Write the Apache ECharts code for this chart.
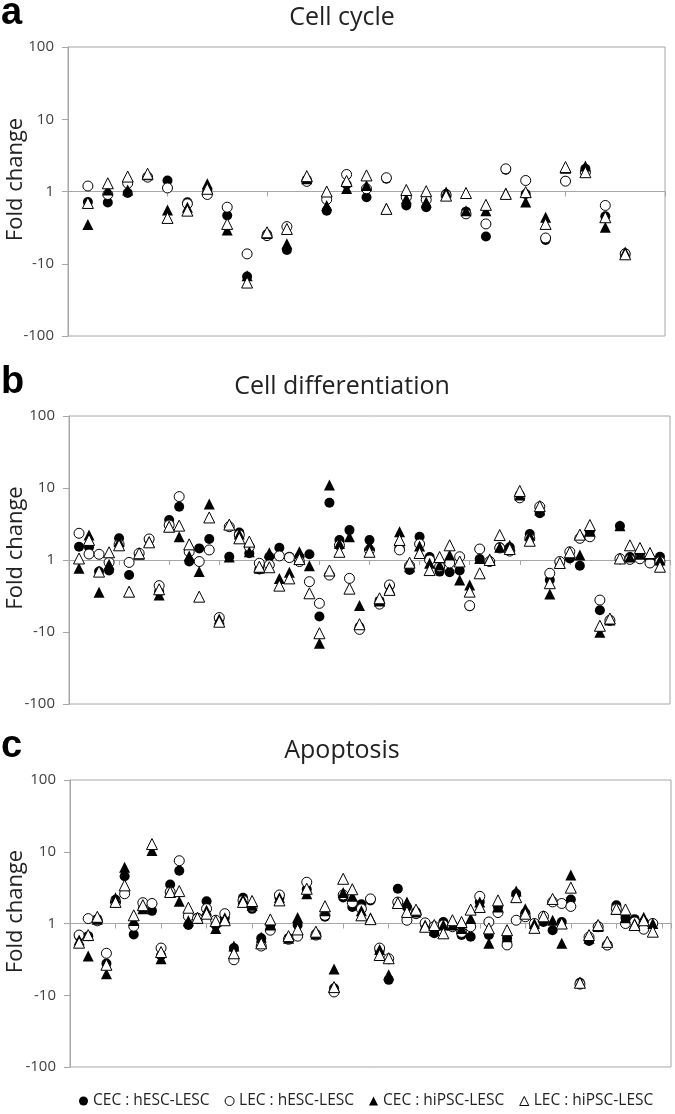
<!DOCTYPE html>
<html>
<head>
<meta charset="utf-8">
<title>Fold change</title>
<script src="https://cdn.jsdelivr.net/npm/echarts@6/dist/echarts.min.js"></script>
<style>
  html, body { margin: 0; padding: 0; background: #fff; }
  #main { width: 675px; height: 1114px; }
</style>
</head>
<body>
<div id="main"></div>
<script>
// fold change values (negative = fold decrease), one entry per gene
var seriesNames = ['CEC : hESC-LESC', 'LEC : hESC-LESC', 'CEC : hiPSC-LESC', 'LEC : hiPSC-LESC'];
var yTicks = [-2, -1, 0, 1, 2];
var yTickLabels = ['-100', '-10', '1', '10', '100'];

// a: Cell cycle
var cycleCecEsc = [-1.4, -1.42, -1.05, 1.6, 1.42, -1.41, 1.03, -2.15, -15, -3.9, -6.46, 1.45, -1.84, 1.25,
    -1.2, 1.5, -1.56, -1.65, -1.08, -1.9, -4.2, 2.0, -1.08, -4.7, 1.4, 2.06, -2.2, -7.2];
var cycleLecEsc = [1.19, -1.1, 1.3, 1.58, 1.12, -1.48, -1.1, -1.65, -7.3, -4.08, -3.06, 1.38, -1.29, 1.72,
    1.09, 1.55, -1.2, -1.3, -1.12, -2.04, -2.81, 2.06, 1.42, -4.4, 1.39, 1.85, -1.56, -7.3];
var cycleCecIps = [-2.87, 1.05, 1.05, 1.7, -1.8, -1.65, 1.28, -3.4, -14.7, -3.8, -5.3, 1.5, -1.56, 1.1,
    1.21, -1.7, -1.26, -1.4, -1.02, -1.85, -1.84, -1.05, -1.4, -2.27, 2.1, 2.25, -3.13, -6.9];
var cycleLecIps = [-1.44, 1.3, 1.61, 1.76, -2.32, -1.84, 1.09, -2.81, -18.2, -3.67, -3.3, 1.63, 1.0, 1.4,
    1.67, -1.74, 1.05, 1.01, -1.14, -1.05, -1.53, -1.08, -1.02, -2.81, 2.18, 1.85, -2.27, -7.4];

// b: Cell differentiation
var diffCecEsc = [1.53, 1.5, -1.45, -1.4, 2.0, -1.62, 1.2, 1.9, -2.75, 3.6, 5.5, -1.05, 1.45, 1.96, -6.6,
    1.11, 2.4, 1.24, -1.35, 1.11, 1.48, 1.11, 1.1, 1.2, -6.1, 6.25, 1.9, 2.6, -8.5, 1.9,
    -3.7, -2.3, 1.5, -1.38, 2.1, 1.1, -1.45, -1.48, -1.4, -4.4, 1.03, -1.05, 1.5, 1.5, 8.0,
    2.3, 4.45, -1.9, -1.1, 1.05, -1.2, 2.5, -5.0, -6.8, 2.96, 1.1, 1.2, 1.0, 1.11];
var diffLecEsc = [2.35, 1.21, 1.2, -1.08, 1.65, -1.08, 1.24, 1.96, -2.27, 3.06, 7.6, 1.3, -1.05, 1.38, -6.3,
    2.9, 2.22, 1.53, -1.11, -1.17, 1.14, 1.08, -1.05, -2.0, -4.0, -1.62, 1.6, -1.8, -9.2, 1.38,
    -4.1, -2.22, 1.38, -1.2, 1.67, 1.0, -1.24, -1.1, 1.11, -4.3, 1.42, -1.05, 1.47, 1.33, 7.3,
    2.0, 5.5, -1.53, -1.05, 1.3, 2.0, 2.1, -3.6, -6.9, 1.04, 1.02, 1.04, -1.1, -1.05];
var diffCecIps = [-1.3, 2.22, -2.81, -1.15, 1.8, -2.75, 1.2, 1.8, -3.06, 2.9, 2.1, 1.14, -1.45, 6.0, -6.6,
    1.1, 2.3, 1.3, -1.3, 1.26, -1.8, -1.48, 1.3, -1.2, -14.3, 11.0, 1.7, 2.1, -4.3, 1.6,
    -3.7, -2.47, 2.47, -1.24, 1.56, -1.11, -1.17, 1.17, -1.9, -2.22, 1.05, 1.03, 1.5, 1.6, 8.0,
    2.2, 4.95, -2.96, -1.1, 1.2, 1.17, 2.5, -10.1, -6.8, 3.0, 1.1, 1.2, 1.2, 1.0];
var diffLecIps = [1.05, 1.9, -1.45, 1.28, 1.6, -2.75, 1.24, 1.76, -2.55, 2.9, 3.0, 1.65, -3.23, 3.9, -7.2,
    3.1, 2.0, 1.8, -1.24, -1.26, -2.27, -1.8, 1.03, -2.9, -10.4, -1.4, 1.3, -2.5, -7.8, 1.3,
    -3.4, -2.6, 1.9, -1.09, 1.25, -1.38, 1.1, 1.6, -1.05, -2.75, -1.53, 1.0, 2.22, 1.42, 9.1,
    1.85, 5.6, -2.1, -1.1, 1.28, 2.25, 3.06, -8.2, -6.5, 1.05, 1.6, 1.47, 1.25, -1.24];

// c: Apoptosis
var apopCecEsc = [-1.5, -1.5, 1.15, -3.6, 2.14, 4.55, -1.42, 1.6, 1.5, -2.8, 3.5, 5.45, -1.05, 1.2, 2.04,
    -1.05, 1.2, -2.2, 2.29, 1.6, -1.61, -1.05, 2.3, -1.6, -1.05, 3.0, -1.4, 1.24, -8.0, 2.3,
    1.7, 1.85, 2.1, -2.4, -6.1, 3.05, 1.7, 1.45, -1.05, -1.37, 1.05, -1.05, -1.45, -1.53, 2.0,
    -1.45, 1.7, -1.6, 2.6, 1.4, -1.1, 1.05, -1.24, 1.05, 2.16, -6.7, -1.75, -1.1, -2.0, 1.79,
    1.2, 1.15, 1.05, 1.0];
var apopLecEsc = [-1.45, 1.17, 1.09, -2.6, 1.99, 2.6, -1.09, 1.95, 1.9, -2.2, 2.75, 7.5, 1.26, 1.17, 1.61,
    1.11, 1.37, -3.2, 2.1, 1.7, -2.06, -1.24, 2.5, -1.66, -1.5, 3.76, -1.45, 1.3, -9.0, 2.5,
    1.95, 1.6, 2.2, -2.2, -3.1, 1.99, 1.11, 1.37, 1.02, -1.1, -1.05, -1.11, -1.33, -1.11, 2.39,
    1.05, 1.42, -1.99, 1.11, 1.24, 1.0, 1.26, 2.0, 1.9, 1.73, -7.0, -1.55, -1.11, -2.0, 1.6,
    1.0, 1.05, -1.2, 1.0];
var apopCecIps = [-1.7, -2.83, 1.15, -5.0, 2.29, 6.1, 1.1, 1.6, 10.4, -3.1, 2.8, 2.05, 1.09, 1.2, 1.53,
    -1.17, 1.2, -2.06, 2.2, 1.8, -1.56, -1.05, 2.3, -1.6, 1.21, 2.6, -1.4, 1.5, -4.3, 2.7,
    2.4, 1.5, 1.2, -2.3, -5.2, 1.95, 1.99, 1.45, -1.05, -1.24, -1.05, -1.05, -1.17, 1.17, 2.0,
    -1.89, 1.7, -1.53, 2.83, 1.61, 1.0, 1.2, 1.11, -1.88, 4.75, -6.6, -1.6, -1.1, -1.8, 1.57,
    1.2, 1.0, 1.22, 1.0];
var apopLecIps = [-1.85, -1.45, 1.24, -3.76, 2.0, 3.4, 1.3, 1.8, 12.8, -2.5, 2.75, 2.83, 1.66, 1.2, 1.37,
    1.08, 1.11, -2.6, 2.0, 2.06, -1.89, 1.14, 2.1, -1.5, -1.21, 3.05, -1.3, 1.74, -7.7, 4.2,
    3.0, 1.3, 1.15, -2.75, -3.05, 1.93, 1.45, 1.56, -1.11, -1.05, -1.37, 1.11, 1.05, 1.56, 1.7,
    -1.17, 2.1, -1.24, 2.33, 1.37, -1.15, 1.26, 2.2, 1.0, 3.16, -6.7, -1.45, -1.05, -1.8, 1.6,
    1.57, -1.05, 1.11, -1.3];

// 三个面板的布局
var panels = [
    { letter: 'a', title: 'Cell cycle', xMax: 30, left: 68, top: 47, width: 597, height: 289,
      data: [cycleCecEsc, cycleLecEsc, cycleCecIps, cycleLecIps] },
    { letter: 'b', title: 'Cell differentiation', xMax: 60, left: 69, top: 416, width: 601, height: 288,
      data: [diffCecEsc, diffLecEsc, diffCecIps, diffLecIps] },
    { letter: 'c', title: 'Apoptosis', xMax: 66, left: 70, top: 780, width: 601, height: 287,
      data: [apopCecEsc, apopLecEsc, apopCecIps, apopLecIps] }
];

var symbols = ['circle', 'circle', 'triangle', 'triangle'];
var filled = [true, false, true, false];
var axisGray = '#a6a6a6';
var textFont = '"Open Sans", "Noto Sans", sans-serif';

// fold change -> position on the signed log axis (1 sits at 0)
function toPos(v) {
    return v >= 0 ? Math.log10(v) : -Math.log10(-v);
}

var myChart = echarts.init(document.getElementById('main'), null, { renderer: 'canvas' });

var grids = [], xAxes = [], yAxes = [], series = [], graphics = [];

panels.forEach(function (p, k) {
    grids.push({
        left: p.left, top: p.top, width: p.width, height: p.height,
        show: true, borderColor: axisGray, borderWidth: 1, backgroundColor: '#fff'
    });
    xAxes.push({
        type: 'value', gridIndex: k, min: 0, max: p.xMax, interval: 5,
        axisLine: { onZero: true, lineStyle: { color: axisGray, width: 1 } },
        axisTick: { show: true, inside: false, length: 5, lineStyle: { color: axisGray } },
        axisLabel: { show: false },
        splitLine: { show: false }
    });
    yAxes.push({
        type: 'value', gridIndex: k, min: -2, max: 2, interval: 1,
        axisLine: { show: true, onZero: false, lineStyle: { color: axisGray, width: 1 } },
        axisTick: { show: true, inside: false, length: 6, lineStyle: { color: axisGray } },
        axisLabel: {
            margin: 14, fontSize: 15, color: '#404040', fontFamily: textFont,
            formatter: function (val) {
                var idx = yTicks.indexOf(Math.round(val));
                return idx >= 0 ? yTickLabels[idx] : '';
            }
        },
        splitLine: { show: false }
    });
    p.data.forEach(function (arr, s) {
        series.push({
            name: seriesNames[s],
            type: 'scatter',
            xAxisIndex: k, yAxisIndex: k,
            symbol: symbols[s],
            symbolSize: s < 2 ? 10 : 11,
            itemStyle: filled[s]
                ? { color: '#000', borderColor: '#000', borderWidth: 0, opacity: 1 }
                : { color: '#fff', borderColor: '#000', borderWidth: 1, opacity: 1 },
            emphasis: { disabled: true },
            data: arr.map(function (v, i) { return [i + 1, toPos(v)]; })
        });
    });

    var midY = p.top + p.height / 2;
    graphics.push({
        type: 'text', x: 1, y: p.top - 33,
        style: { text: p.letter, font: 'bold 38px "Liberation Sans", Arial, sans-serif',
                 fill: '#000', textAlign: 'left', textVerticalAlign: 'middle' }
    });
    graphics.push({
        type: 'text', x: 342, y: p.top - 29,
        style: { text: p.title, font: '25px ' + textFont,
                 fill: '#222', textAlign: 'center', textVerticalAlign: 'middle' }
    });
    graphics.push({
        type: 'text', x: 16, y: midY - 12, rotation: Math.PI / 2,
        style: { text: 'Fold change', font: '22px ' + textFont,
                 fill: '#222', textAlign: 'center', textVerticalAlign: 'middle' }
    });
});

var option = {
    animation: false,
    backgroundColor: '#fff',
    grid: grids,
    xAxis: xAxes,
    yAxis: yAxes,
    legend: {
        left: 74, right: 0, top: 1088,
        itemWidth: 9, itemHeight: 9, itemGap: 15,
        textStyle: { fontSize: 15.5, color: '#222', fontFamily: textFont },
        data: seriesNames.map(function (n, s) {
            return {
                name: n, icon: symbols[s] === 'circle' ? 'circle' : 'triangle',
                itemStyle: filled[s]
                    ? { color: '#000', borderWidth: 0 }
                    : { color: '#fff', borderColor: '#000', borderWidth: 1 }
            };
        })
    },
    graphic: graphics,
    series: series
};

myChart.setOption(option);
</script>
</body>
</html>
